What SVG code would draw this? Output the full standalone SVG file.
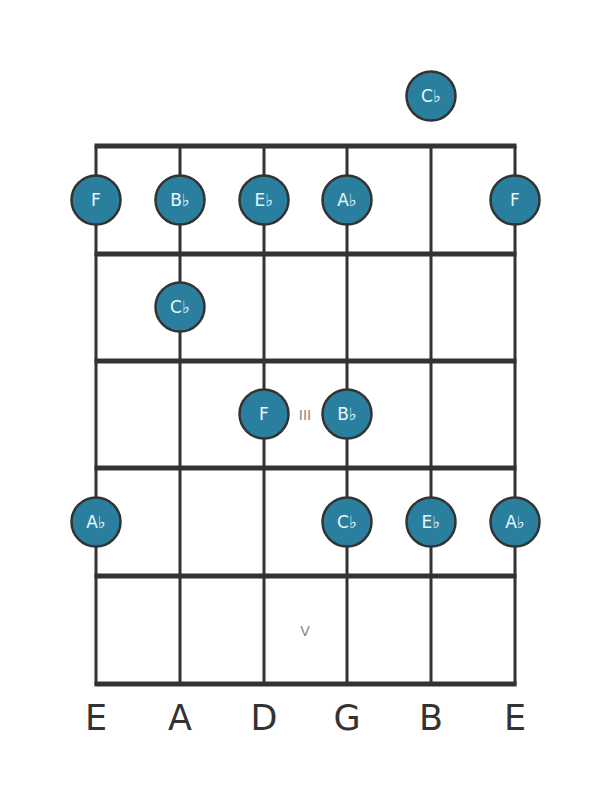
<svg xmlns="http://www.w3.org/2000/svg" width="611" height="801" viewBox="0 0 611 801">
<style>
.s{stroke:#333;stroke-width:3;fill:none}
.f{stroke:#333;stroke-width:5;fill:none}
.n circle{fill:#2a7f9e;stroke:#333;stroke-width:2.5}
.n text{fill:#e8f6fc;font-family:"DejaVu Sans",sans-serif;font-size:17px;text-anchor:middle;dominant-baseline:central}
.lbl{fill:#333;font-family:"DejaVu Sans",sans-serif;font-size:35px;text-anchor:middle}
.fr{fill:#888;font-family:"DejaVu Sans",sans-serif;font-size:14px;text-anchor:middle;dominant-baseline:central}
</style>
<rect width="611" height="801" fill="#fff"/>
<g id="grid">
<line class="s" x1="96" y1="146" x2="96" y2="685"/>
<line class="s" x1="180" y1="146" x2="180" y2="685"/>
<line class="s" x1="264" y1="146" x2="264" y2="685"/>
<line class="s" x1="347" y1="146" x2="347" y2="685"/>
<line class="s" x1="431" y1="146" x2="431" y2="685"/>
<line class="s" x1="515" y1="146" x2="515" y2="685"/>
<line class="f" x1="94.5" y1="146" x2="516.5" y2="146"/>
<line class="f" x1="94.5" y1="254" x2="516.5" y2="254"/>
<line class="f" x1="94.5" y1="361" x2="516.5" y2="361"/>
<line class="f" x1="94.5" y1="468" x2="516.5" y2="468"/>
<line class="f" x1="94.5" y1="576" x2="516.5" y2="576"/>
<line class="f" x1="94.5" y1="684" x2="516.5" y2="684"/>
</g>
<text class="fr" x="305" y="415">III</text>
<text class="fr" x="305" y="631">V</text>
<g id="n0" class="n"><circle cx="431" cy="96" r="24.5"/><text x="431" y="96">C♭</text></g>
<g id="n1" class="n"><circle cx="96" cy="200" r="24.5"/><text x="96" y="200">F</text></g>
<g id="n2" class="n"><circle cx="180" cy="200" r="24.5"/><text x="180" y="200">B♭</text></g>
<g id="n3" class="n"><circle cx="264" cy="200" r="24.5"/><text x="264" y="200">E♭</text></g>
<g id="n4" class="n"><circle cx="347" cy="200" r="24.5"/><text x="347" y="200">A♭</text></g>
<g id="n5" class="n"><circle cx="515" cy="200" r="24.5"/><text x="515" y="200">F</text></g>
<g id="n6" class="n"><circle cx="180" cy="307" r="24.5"/><text x="180" y="307">C♭</text></g>
<g id="n7" class="n"><circle cx="264" cy="414" r="24.5"/><text x="264" y="414">F</text></g>
<g id="n8" class="n"><circle cx="347" cy="414" r="24.5"/><text x="347" y="414">B♭</text></g>
<g id="n9" class="n"><circle cx="96" cy="522" r="24.5"/><text x="96" y="522">A♭</text></g>
<g id="n10" class="n"><circle cx="347" cy="522" r="24.5"/><text x="347" y="522">C♭</text></g>
<g id="n11" class="n"><circle cx="431" cy="522" r="24.5"/><text x="431" y="522">E♭</text></g>
<g id="n12" class="n"><circle cx="515" cy="522" r="24.5"/><text x="515" y="522">A♭</text></g>
<g id="labels">
<text class="lbl" x="96" y="730">E</text>
<text class="lbl" x="180" y="730">A</text>
<text class="lbl" x="264" y="730">D</text>
<text class="lbl" x="347" y="730">G</text>
<text class="lbl" x="431" y="730">B</text>
<text class="lbl" x="515" y="730">E</text>
</g>
</svg>
